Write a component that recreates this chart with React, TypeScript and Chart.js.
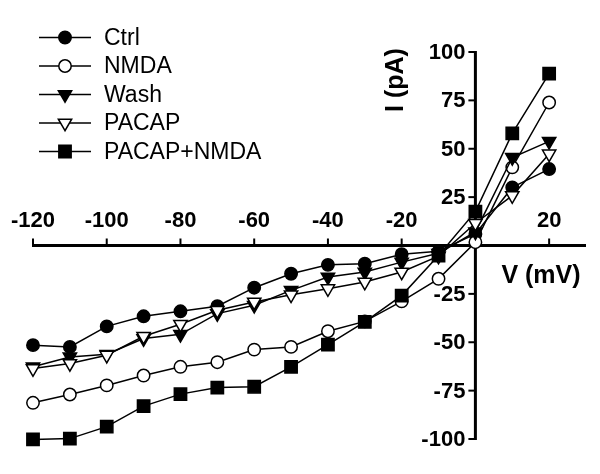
import React, { useEffect, useRef } from "react";
import { Chart, registerables } from "chart.js";

Chart.register(...registerables);

const voltages = [-120, -110, -100, -90, -80, -70, -60, -50, -40, -30, -20, -10, 0, 10, 20];
const ctrl = [-51.5, -52.4, -41.8, -36.6, -34, -31.4, -21.8, -14.6, -10, -9.4, -4.5, -3, 6, 30, 39.5];
const nmda = [-81.3, -77, -72.3, -67.2, -62.7, -60.3, -53.8, -52.4, -44.3, -39.2, -28.9, -17.2, 1.7, 40.4, 73.9];
const wash = [-62.7, -57.6, -56.2, -48.1, -45.9, -35.2, -30.9, -23.2, -16.3, -13.7, -8.6, -4, 7, 45.5, 53.8];
const pacap = [-63.6, -61, -56.7, -46.9, -40.7, -33.5, -29.2, -25.5, -22.3, -18.9, -13.7, -5.5, 11.5, 25.8, 47.3];
const pacapNmda = [-100.2, -99.8, -93.6, -83, -76.8, -73.4, -73, -62.7, -51.2, -39.5, -25.9, -5.2, 17.5, 57.9, 88.8];

const seriesNames = ["Ctrl", "NMDA", "Wash", "PACAP", "PACAP+NMDA"];
const xTicks = [-120, -100, -80, -60, -40, -20, 20];
const yTicks = [100, 75, 50, 25, -25, -50, -75, -100];
const xTitle = "V (mV)";
const yTitle = "I (pA)";

const FONT = "'Liberation Sans', Arial, Helvetica, sans-serif";

type Marker = { shape: "circle" | "triDown" | "square"; filled: boolean; r: number };
const markers: Marker[] = [
  { shape: "circle", filled: true, r: 6.2 },
  { shape: "circle", filled: false, r: 6.2 },
  { shape: "triDown", filled: true, r: 7.7 },
  { shape: "triDown", filled: false, r: 7.7 },
  { shape: "square", filled: true, r: 8.7 },
];

function drawMarker(ctx: CanvasRenderingContext2D, m: Marker, x: number, y: number) {
  ctx.save();
  ctx.beginPath();
  if (m.shape === "circle") {
    ctx.arc(x, y, m.r, 0, Math.PI * 2);
  } else if (m.shape === "triDown") {
    for (let i = 0; i < 3; i++) {
      const a = Math.PI + (i * 2 * Math.PI) / 3;
      const px = x + Math.sin(a) * m.r;
      const py = y - Math.cos(a) * m.r;
      if (i === 0) ctx.moveTo(px, py);
      else ctx.lineTo(px, py);
    }
    ctx.closePath();
  } else {
    const s = m.r * Math.SQRT1_2;
    ctx.rect(x - s, y - s, 2 * s, 2 * s);
  }
  ctx.fillStyle = m.filled ? "#000" : "#fff";
  ctx.fill();
  ctx.lineWidth = 1.5;
  ctx.strokeStyle = "#000";
  ctx.stroke();
  ctx.restore();
}

const axesPlugin = {
  id: "customAxes",
  beforeDatasetsDraw(chart: any) {
    const { ctx } = chart;
    const xs = chart.scales.x;
    const ys = chart.scales.y;
    const x0 = xs.getPixelForValue(0);
    const y0 = ys.getPixelForValue(0);
    ctx.save();
    ctx.strokeStyle = "#000";
    ctx.fillStyle = "#000";
    ctx.lineWidth = 3;
    ctx.beginPath();
    ctx.moveTo(xs.getPixelForValue(-120) - 1, y0);
    ctx.lineTo(xs.getPixelForValue(30), y0);
    ctx.stroke();
    ctx.beginPath();
    ctx.moveTo(x0, ys.getPixelForValue(100) - 1);
    ctx.lineTo(x0, ys.getPixelForValue(-100) + 1);
    ctx.stroke();
    ctx.lineWidth = 2;
    ctx.font = `bold 22px ${FONT}`;
    ctx.textAlign = "center";
    ctx.textBaseline = "middle";
    for (const t of xTicks) {
      const px = xs.getPixelForValue(t);
      ctx.beginPath();
      ctx.moveTo(px, y0);
      ctx.lineTo(px, y0 - 7);
      ctx.stroke();
      ctx.fillText(String(t), px, y0 - 25);
    }
    ctx.textAlign = "right";
    for (const t of yTicks) {
      const py = ys.getPixelForValue(t);
      ctx.beginPath();
      ctx.moveTo(x0, py);
      ctx.lineTo(x0 - 7, py);
      ctx.stroke();
      ctx.fillText(String(t), x0 - 10, py + 1);
    }
    ctx.font = `bold 25px ${FONT}`;
    ctx.textAlign = "center";
    ctx.fillText(xTitle, 541, 276);
    ctx.save();
    ctx.translate(396, 80);
    ctx.rotate(-Math.PI / 2);
    ctx.fillText(yTitle, 0, 0);
    ctx.restore();
    ctx.restore();
  },
  afterDraw(chart: any) {
    const { ctx } = chart;
    ctx.save();
    ctx.font = `23px ${FONT}`;
    ctx.textAlign = "left";
    ctx.textBaseline = "middle";
    for (let i = 0; i < seriesNames.length; i++) {
      const y = 37.5 + i * 28.5;
      ctx.strokeStyle = "#000";
      ctx.lineWidth = 1.5;
      ctx.beginPath();
      ctx.moveTo(39, y);
      ctx.lineTo(91, y);
      ctx.stroke();
      drawMarker(ctx, markers[i], 65, y);
      ctx.fillStyle = "#000";
      ctx.fillText(seriesNames[i], 104, y + 1);
    }
    ctx.restore();
  },
};

const seriesValues = [ctrl, nmda, wash, pacap, pacapNmda];

export default function App() {
  const ref = useRef<HTMLCanvasElement | null>(null);
  useEffect(() => {
    if (!ref.current) return;
    const datasets = seriesValues.map((vals, i) => {
      const m = markers[i];
      return {
        label: seriesNames[i],
        data: voltages.map((v, j) => ({ x: v, y: vals[j] })),
        showLine: true,
        borderColor: "#000",
        borderWidth: 1.5,
        pointStyle: m.shape === "circle" ? "circle" : m.shape === "square" ? "rect" : "triangle",
        rotation: m.shape === "triDown" ? 180 : 0,
        pointRadius: m.r,
        pointBackgroundColor: m.filled ? "#000" : "#fff",
        pointBorderColor: "#000",
        pointBorderWidth: 1.5,
        clip: false as any,
        order: 5 - i,
      };
    });
    const chart = new Chart(ref.current, {
      type: "scatter",
      data: { datasets },
      options: {
        animation: false,
        responsive: false,
        layout: { padding: { left: 33, right: 14, top: 52, bottom: 35 } },
        plugins: { legend: { display: false }, tooltip: { enabled: false }, title: { display: false } },
        scales: {
          x: { type: "linear", min: -120, max: 30, display: false },
          y: { type: "linear", min: -100, max: 100, display: false },
        },
      },
      plugins: [axesPlugin],
    } as any);
    return () => chart.destroy();
  }, []);
  return (
    <div style={{ position: "absolute", left: 0, top: 0, width: 600, height: 474, background: "#fff" }}>
      <canvas ref={ref} width={600} height={474} />
    </div>
  );
}
